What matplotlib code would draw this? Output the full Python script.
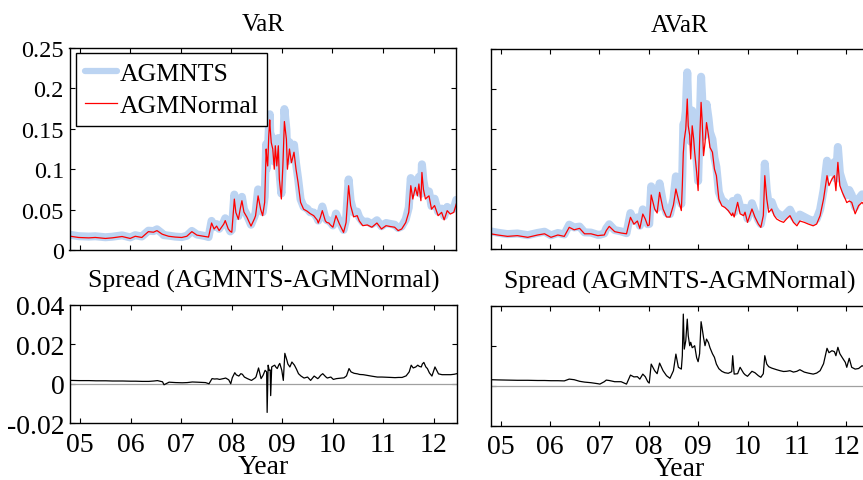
import matplotlib
matplotlib.use("Agg")
import matplotlib.pyplot as plt
from matplotlib.ticker import FuncFormatter

plt.rcParams['font.family'] = ['Liberation Serif', 'DejaVu Serif']
plt.rcParams['axes.unicode_minus'] = False

# ---------------- data: VaR (left column) ----------------
var_years = [2004.82, 2004.98, 2005.18, 2005.31, 2005.51, 2005.64, 2005.84, 2006.00, 2006.10, 2006.23,
             2006.36, 2006.46, 2006.53, 2006.63, 2006.66, 2006.76, 2006.89, 2007.02, 2007.12, 2007.22,
             2007.32, 2007.48, 2007.55, 2007.61, 2007.66, 2007.71, 2007.76, 2007.85, 2007.88, 2007.94,
             2007.98, 2008.01, 2008.06, 2008.09, 2008.14, 2008.18, 2008.21, 2008.25, 2008.31, 2008.39,
             2008.46, 2008.48, 2008.53, 2008.58, 2008.62, 2008.66, 2008.69, 2008.70, 2008.72, 2008.74,
             2008.76, 2008.77, 2008.79, 2008.82, 2008.85, 2008.87, 2008.90, 2008.93, 2008.95, 2008.99,
             2009.02, 2009.05, 2009.09, 2009.11, 2009.15, 2009.19, 2009.24, 2009.28, 2009.32, 2009.37,
             2009.43, 2009.50, 2009.56, 2009.63, 2009.70, 2009.72, 2009.76, 2009.80, 2009.86, 2009.89,
             2009.93, 2009.96, 2010.01, 2010.07, 2010.14, 2010.22, 2010.27, 2010.32, 2010.36, 2010.42,
             2010.49, 2010.53, 2010.60, 2010.69, 2010.78, 2010.88, 2010.97, 2011.06, 2011.15, 2011.23,
             2011.30, 2011.37, 2011.45, 2011.51, 2011.55, 2011.59, 2011.64, 2011.68, 2011.71, 2011.75,
             2011.77, 2011.80, 2011.84, 2011.87, 2011.91, 2011.96, 2012.02, 2012.09, 2012.16, 2012.21,
             2012.27, 2012.33, 2012.40, 2012.45]
var_normal = [0.0170, 0.0155, 0.0150, 0.0155, 0.0143, 0.0150, 0.0167, 0.0143, 0.0170, 0.0155,
              0.0227, 0.0220, 0.0240, 0.0197, 0.0190, 0.0170, 0.0160, 0.0155, 0.0170, 0.0227,
              0.0184, 0.0167, 0.0160, 0.0334, 0.0260, 0.0296, 0.0240, 0.0320, 0.0364, 0.0260,
              0.0230, 0.0220, 0.0630, 0.0465, 0.0380, 0.0520, 0.0610, 0.0470, 0.0405, 0.0296,
              0.0390, 0.0425, 0.0670, 0.0505, 0.0425, 0.0590, 0.1250, 0.1150, 0.1040, 0.1400,
              0.1610, 0.1500, 0.1330, 0.1250, 0.1000, 0.1290, 0.1040, 0.1290, 0.0879, 0.0631,
              0.1040, 0.1590, 0.1370, 0.1000, 0.1250, 0.1080, 0.1210, 0.1000, 0.0838, 0.0590,
              0.0505, 0.0480, 0.0450, 0.0425, 0.0370, 0.0334, 0.0400, 0.0487, 0.0360, 0.0340,
              0.0334, 0.0310, 0.0282, 0.0425, 0.0320, 0.0218, 0.0340, 0.0796, 0.0550, 0.0410,
              0.0425, 0.0360, 0.0301, 0.0310, 0.0282, 0.0334, 0.0260, 0.0301, 0.0290, 0.0282,
              0.0240, 0.0260, 0.0340, 0.0466, 0.0796, 0.0631, 0.0775, 0.0670, 0.0817, 0.0610,
              0.0960, 0.0750, 0.0631, 0.0650, 0.0670, 0.0505, 0.0550, 0.0425, 0.0466, 0.0373,
              0.0487, 0.0445, 0.0466, 0.0570]
var_spread = [0.0017, 0.0016, 0.0016, 0.0015, 0.0015, 0.0014, 0.0014, 0.0013, 0.0013, 0.0012,
              0.0012, 0.0014, 0.0016, 0.0010, -0.0005, 0.0008, 0.0006, 0.0005, 0.0006, 0.0009,
              0.0008, 0.0006, 0.0000, 0.0026, 0.0024, 0.0025, 0.0022, 0.0027, 0.0029, 0.0020,
              0.0000, 0.0030, 0.0056, 0.0045, 0.0039, 0.0051, 0.0048, 0.0034, 0.0026, 0.0017,
              0.0029, 0.0035, 0.0080, 0.0026, 0.0043, 0.0068, 0.0060, -0.0145, 0.0094, 0.0068,
              0.0070, -0.0060, 0.0085, 0.0090, 0.0094, 0.0085, 0.0077, 0.0095, 0.0103, 0.0068,
              0.0017, 0.0154, 0.0120, 0.0100, 0.0085, 0.0110, 0.0094, 0.0074, 0.0051, 0.0039,
              0.0029, 0.0034, 0.0017, 0.0039, 0.0026, 0.0030, 0.0043, 0.0051, 0.0035, 0.0029,
              0.0032, 0.0034, 0.0022, 0.0026, 0.0028, 0.0030, 0.0040, 0.0077, 0.0060, 0.0053,
              0.0050, 0.0047, 0.0046, 0.0042, 0.0038, 0.0034, 0.0034, 0.0033, 0.0032, 0.0031,
              0.0032, 0.0032, 0.0040, 0.0060, 0.0094, 0.0080, 0.0085, 0.0094, 0.0088, 0.0085,
              0.0100, 0.0108, 0.0085, 0.0077, 0.0055, 0.0039, 0.0085, 0.0050, 0.0046, 0.0046,
              0.0046, 0.0046, 0.0048, 0.0051]

# ---------------- data: AVaR (right column) ----------------
avar_years = [2004.80, 2004.94, 2005.14, 2005.34, 2005.55, 2005.75, 2005.89, 2006.02, 2006.16, 2006.29,
              2006.39, 2006.49, 2006.60, 2006.70, 2006.83, 2006.97, 2007.01, 2007.10, 2007.14, 2007.20,
              2007.31, 2007.44, 2007.55, 2007.63, 2007.70, 2007.77, 2007.82, 2007.88, 2007.93, 2007.98,
              2008.01, 2008.05, 2008.12, 2008.17, 2008.22, 2008.29, 2008.36, 2008.43, 2008.50, 2008.55,
              2008.60, 2008.66, 2008.68, 2008.70, 2008.72, 2008.75, 2008.78, 2008.80, 2008.83, 2008.85,
              2008.88, 2008.91, 2008.93, 2008.97, 2009.00, 2009.03, 2009.06, 2009.08, 2009.11, 2009.14,
              2009.17, 2009.21, 2009.24, 2009.29, 2009.33, 2009.37, 2009.42, 2009.48, 2009.54, 2009.61,
              2009.68, 2009.70, 2009.73, 2009.80, 2009.85, 2009.92, 2009.95, 2010.00, 2010.09, 2010.15,
              2010.22, 2010.27, 2010.32, 2010.35, 2010.39, 2010.43, 2010.49, 2010.54, 2010.59, 2010.66,
              2010.73, 2010.79, 2010.86, 2010.93, 2011.00, 2011.06, 2011.15, 2011.23, 2011.33, 2011.40,
              2011.47, 2011.54, 2011.61, 2011.65, 2011.71, 2011.76, 2011.79, 2011.83, 2011.87, 2011.92,
              2011.98, 2012.01, 2012.06, 2012.11, 2012.18, 2012.25, 2012.32, 2012.40, 2012.46]
avar_normal = [0.0190, 0.0175, 0.0158, 0.0167, 0.0146, 0.0175, 0.0190, 0.0146, 0.0175, 0.0158,
               0.0271, 0.0240, 0.0258, 0.0190, 0.0190, 0.0167, 0.0170, 0.0175, 0.0230, 0.0283,
               0.0217, 0.0200, 0.0190, 0.0396, 0.0310, 0.0350, 0.0258, 0.0437, 0.0375, 0.0290,
               0.0300, 0.0675, 0.0500, 0.0450, 0.0708, 0.0500, 0.0400, 0.0400, 0.0550, 0.0750,
               0.0620, 0.0480, 0.0790, 0.1200, 0.1370, 0.1500, 0.1875, 0.1540, 0.1420, 0.1125,
               0.1540, 0.1375, 0.1210, 0.0960, 0.0730, 0.1330, 0.1833, 0.1625, 0.1167, 0.1330,
               0.1580, 0.1420, 0.1270, 0.1210, 0.1000, 0.0917, 0.0625, 0.0540, 0.0520, 0.0480,
               0.0417, 0.0450, 0.0400, 0.0583, 0.0440, 0.0417, 0.0460, 0.0333, 0.0500, 0.0400,
               0.0312, 0.0270, 0.0417, 0.0917, 0.0625, 0.0458, 0.0500, 0.0417, 0.0375, 0.0350,
               0.0333, 0.0375, 0.0417, 0.0333, 0.0290, 0.0350, 0.0333, 0.0312, 0.0290, 0.0312,
               0.0417, 0.0625, 0.0917, 0.0792, 0.0875, 0.0917, 0.0729, 0.1083, 0.0792, 0.0708,
               0.0625, 0.0580, 0.0600, 0.0583, 0.0440, 0.0542, 0.0583, 0.0520, 0.0580]
avar_spread = [0.0030, 0.0029, 0.0028, 0.0027, 0.0027, 0.0026, 0.0026, 0.0025, 0.0025, 0.0024,
               0.0033, 0.0030, 0.0022, 0.0018, 0.0015, 0.0010, 0.0008, 0.0020, 0.0028, 0.0026,
               0.0020, 0.0020, 0.0008, 0.0053, 0.0044, 0.0045, 0.0033, 0.0058, 0.0045, 0.0020,
               0.0013, 0.0108, 0.0075, 0.0060, 0.0113, 0.0075, 0.0050, 0.0037, 0.0075, 0.0158,
               0.0092, 0.0083, 0.0150, 0.0358, 0.0183, 0.0225, 0.0333, 0.0250, 0.0200, 0.0217,
               0.0190, 0.0195, 0.0200, 0.0140, 0.0120, 0.0160, 0.0320, 0.0290, 0.0240, 0.0200,
               0.0233, 0.0215, 0.0190, 0.0160, 0.0142, 0.0108, 0.0085, 0.0072, 0.0065, 0.0062,
               0.0070, 0.0150, 0.0058, 0.0060, 0.0092, 0.0063, 0.0055, 0.0047, 0.0072, 0.0065,
               0.0050, 0.0042, 0.0060, 0.0150, 0.0108, 0.0095, 0.0088, 0.0084, 0.0080, 0.0075,
               0.0071, 0.0072, 0.0075, 0.0068, 0.0072, 0.0080, 0.0068, 0.0063, 0.0058, 0.0063,
               0.0075, 0.0110, 0.0187, 0.0165, 0.0175, 0.0170, 0.0150, 0.0192, 0.0160, 0.0140,
               0.0117, 0.0092, 0.0137, 0.0092, 0.0083, 0.0086, 0.0100, 0.0090, 0.0095]

year_ticks = [2005, 2006, 2007, 2008, 2009, 2010, 2011, 2012]
year_labels = ['05', '06', '07', '08', '09', '10', '11', '12']
top_ticks = [0, 0.05, 0.1, 0.15, 0.2, 0.25]
spread_ticks = [-0.02, 0, 0.02, 0.04]

var_nts = [n + s for n, s in zip(var_normal, var_spread)]
avar_nts = [n + s for n, s in zip(avar_normal, avar_spread)]

BLUE = '#bcd4f2'
W, H = 863, 481
fig = plt.figure(figsize=(W / 100, H / 100), dpi=100)


def px_axes(x0, y0, x1, y1):
    return fig.add_axes([x0 / W, 1 - y1 / H, (x1 - x0) / W, (y1 - y0) / H])


ax_tl = px_axes(69.5, 49, 456.3, 251)
ax_tr = px_axes(490.7, 50, 868.5, 250)
ax_bl = px_axes(70, 305.7, 456.7, 424.3)
ax_br = px_axes(490.7, 306.7, 868.5, 426.7)

fmt = FuncFormatter(lambda v, p: '%g' % round(v, 4))

for ax in (ax_tl, ax_tr, ax_bl, ax_br):
    ax.set_xlim(2004.80, 2012.45)
    ax.set_xticks(year_ticks)
    ax.tick_params(direction='in', length=3.5, width=0.8, top=True, right=True, pad=4)
    for sp in ax.spines.values():
        sp.set_linewidth(1.0)

# top panels
for ax, yrs, nts, nor, title in ((ax_tl, var_years, var_nts, var_normal, 'VaR'),
                                   (ax_tr, avar_years, avar_nts, avar_normal, 'AVaR')):
    ax.plot(yrs, nts, color=BLUE, lw=5.8, solid_capstyle='round', solid_joinstyle='round', label='AGMNTS')
    ax.plot(yrs, nor, color='#ff0000', lw=0.9, label='AGMNormal')
    ax.set_ylim(0, 0.25)
    ax.set_yticks(top_ticks)
    ax.yaxis.set_major_formatter(fmt)
    ax.set_xticklabels([])
    ax.set_title(title, fontsize=18, pad=13)
    for lab in ax.get_yticklabels():
        lab.set_fontsize(17.5)

ax_tr.set_yticklabels([])

leg = ax_tl.legend(loc='upper left', bbox_to_anchor=(76 / W, 1 - 54 / H),
                   bbox_transform=fig.transFigure, borderaxespad=0, fontsize=18.6,
                   fancybox=False, framealpha=1, edgecolor='black', handlelength=1.25,
                   handletextpad=0.12, labelspacing=0.36, borderpad=0.33)
leg.get_frame().set_linewidth(1.0)
for h in leg.legend_handles:
    if h.get_color() == BLUE:
        h.set_linewidth(4.5)

# spread panels
for ax, yrs, spr in ((ax_bl, var_years, var_spread), (ax_br, avar_years, avar_spread)):
    ax.plot([yrs[0], yrs[-1]], [0, 0], color='#a0a0a0', lw=0.9)
    ax.plot(yrs, spr, color='black', lw=0.9)
    ax.set_ylim(-0.02, 0.04)
    ax.set_yticks(spread_ticks)
    ax.yaxis.set_major_formatter(fmt)
    ax.set_xticklabels(year_labels, fontsize=20)
    ax.set_xlabel('Year', fontsize=20, labelpad=-2)
    ax.set_title('Spread (AGMNTS-AGMNormal)', fontsize=18.5, pad=13)
    ax.tick_params(axis='x', pad=6)
    for lab in ax.get_yticklabels():
        lab.set_fontsize(20)

ax_br.set_yticklabels([])

fig.savefig('out.png', dpi=100)
